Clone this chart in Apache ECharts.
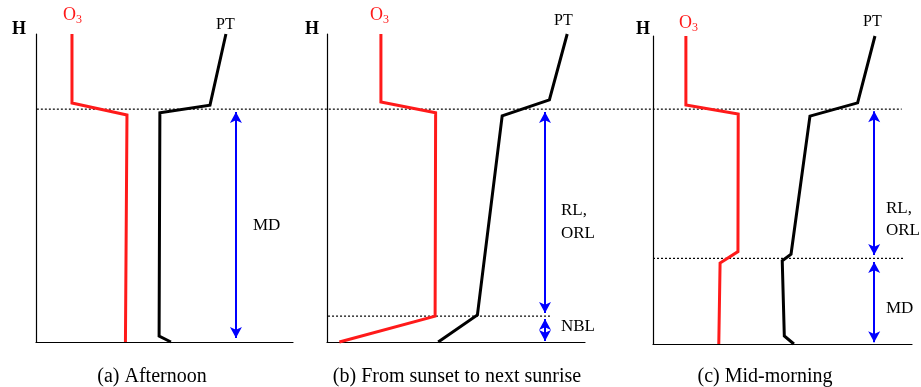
<!DOCTYPE html>
<html>
<head>
<meta charset="utf-8">
<script src="https://cdn.jsdelivr.net/npm/echarts@6/dist/echarts.min.js"></script>
<style>
  html, body { margin: 0; padding: 0; background: #fff; }
  #chart { width: 921px; height: 387px; }
</style>
</head>
<body>
<div id="chart"></div>
<script>
// Profile sketch: O3 and potential temperature (PT) against height H,
// three stages of the boundary layer. Units are relative (0-100 per panel).

// (a) Afternoon
const aO3 = [[14.0, 100], [14.0, 77.6], [35.4, 73.7], [34.8, 0]];
const aPT = [[73.9, 100], [67.7, 76.9], [48.2, 74.4], [47.9, 1.9], [52.5, 0]];
const aArrows = [[77.8, 74.7, 1.3]];   // [x, from, to]

// (b) From sunset to next sunrise
const bO3 = [[20.9, 100], [20.9, 77.9], [42.1, 74.4], [41.9, 8.4], [4.8, 0]];
const bPT = [[93.1, 100], [86.2, 78.6], [67.9, 73.4], [58.3, 8.8], [43.1, 0]];
const bNbl = 8.4;                  // top of nocturnal boundary layer
const bArrows = [[84.5, 74.7, 9.4], [84.5, 7.5, 0.3]];

// (c) Mid-morning
const cO3 = [[12.7, 100], [12.7, 77.6], [32.9, 74.7], [32.8, 30.0], [25.9, 26.3], [25.4, 0]];
const cPT = [[85.7, 100], [79.0, 78.3], [60.6, 74.0], [53.3, 29.2], [49.9, 27.0], [50.7, 2.6], [54.4, 0]];
const cMd = 27.8;
const cArrows = [[85.4, 75.6, 28.9], [85.4, 26.6, 0.6]];

// residual-layer top, one dotted line across all three panels (page-wide units)
const topLevel = 75.6;
const topSpan = [4.0, 97.9];

const captions = ['(a) Afternoon', '(b) From sunset to next sunrise', '(c) Mid-morning'];

const SERIF = '"Liberation Serif", "DejaVu Serif", serif';
const RED = '#ff1a1a';
const BLUE = '#0000ff';

const grids = [
  { left: 36, top: 34, width: 257, height: 308 },
  { left: 327, top: 34, width: 258, height: 308 },
  { left: 653, top: 36, width: 259, height: 308 },
  { left: 0, top: 34, width: 921, height: 308 }   // overlay for the shared level
];

function axis(i, hidden) {
  return {
    gridIndex: i, type: 'value', min: 0, max: 100,
    axisLine: { show: !hidden, onZero: false, lineStyle: { color: '#000', width: 1.2 } },
    axisTick: { show: false }, axisLabel: { show: false }, splitLine: { show: false }
  };
}

function profile(i, data, color) {
  return {
    type: 'line', xAxisIndex: i, yAxisIndex: i, data: data,
    symbol: 'none', clip: false, silent: true,
    lineStyle: { color: color, width: 3, join: 'miter' }
  };
}

function dotted(i, y, x0, x1) {
  return {
    type: 'line', xAxisIndex: i, yAxisIndex: i,
    data: [[x0, y], [x1, y]],
    symbol: 'none', clip: false, silent: true,
    lineStyle: { color: '#000', width: 1.2, type: [2, 2] }
  };
}

// blue double-headed arrows, drawn as markLines on an empty series
function arrows(i, list) {
  return {
    type: 'line', xAxisIndex: i, yAxisIndex: i, data: [],
    silent: true,
    markLine: {
      silent: true, symbol: ['arrow', 'arrow'], symbolSize: [9, 11],
      label: { show: false },
      lineStyle: { color: BLUE, width: 2, type: 'solid' },
      data: list.map(a => [{ coord: [a[0], a[1]] }, { coord: [a[0], a[2]] }])
    }
  };
}

function txt(x, y, text, opts) {
  return {
    type: 'text', left: x, top: y, silent: true,
    style: Object.assign({ text: text, fill: '#000', font: '17px ' + SERIF }, opts || {})
  };
}

function o3Label(x, y) {
  return {
    type: 'text', left: x, top: y, silent: true,
    style: {
      text: '{o|O}{s|3}',
      rich: {
        o: { fill: RED, fontFamily: SERIF, fontSize: 18 },
        s: { fill: RED, fontFamily: SERIF, fontSize: 12, padding: [9, 0, 0, 0] }
      }
    }
  };
}

function caption(cx, text) {
  return {
    type: 'text', x: cx, y: 377, silent: true,
    style: { text: text, fill: '#000', font: '20px ' + SERIF, align: 'center', verticalAlign: 'middle' }
  };
}

const chart = echarts.init(document.getElementById('chart'), null, { renderer: 'canvas' });

chart.setOption({
  animation: false,
  backgroundColor: '#fff',
  grid: grids,
  xAxis: [axis(0), axis(1), axis(2), axis(3, true)],
  yAxis: [axis(0), axis(1), axis(2), axis(3, true)],
  series: [
    dotted(3, topLevel, topSpan[0], topSpan[1]),

    arrows(0, aArrows),
    profile(0, aO3, RED),
    profile(0, aPT, '#000'),

    dotted(1, bNbl, 0.4, 86.4),
    arrows(1, bArrows),
    profile(1, bO3, RED),
    profile(1, bPT, '#000'),

    dotted(2, cMd, 0, 97.3),
    arrows(2, cArrows),
    profile(2, cO3, RED),
    profile(2, cPT, '#000')
  ],
  graphic: [
    txt(12, 20, 'H', { font: 'bold 18px ' + SERIF }),
    o3Label(63, 6),
    txt(216, 17, 'PT', { font: '16px ' + SERIF }),
    txt(253, 217, 'MD'),
    caption(152, captions[0]),

    txt(305, 20, 'H', { font: 'bold 18px ' + SERIF }),
    o3Label(370, 6),
    txt(554, 13, 'PT', { font: '16px ' + SERIF }),
    txt(561, 202, 'RL,'),
    txt(561, 225, 'ORL'),
    txt(561, 318, 'NBL'),
    caption(457, captions[1]),

    txt(636, 20, 'H', { font: 'bold 18px ' + SERIF }),
    o3Label(679, 14),
    txt(863, 14, 'PT', { font: '16px ' + SERIF }),
    txt(886, 200, 'RL,'),
    txt(886, 222, 'ORL'),
    txt(886, 300, 'MD'),
    caption(765, captions[2])
  ]
});
</script>
</body>
</html>
